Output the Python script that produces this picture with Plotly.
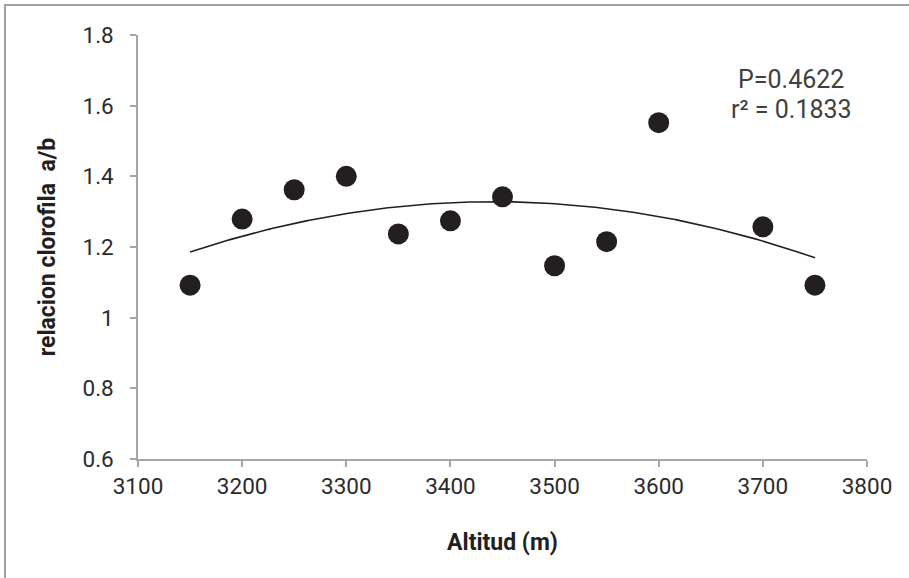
import numpy as np
import plotly.graph_objects as go

altitud = [3150, 3200, 3250, 3300, 3350, 3400, 3450, 3500, 3550, 3600, 3700, 3750]
relacion = [1.092, 1.279, 1.362, 1.400, 1.237, 1.274, 1.342, 1.147, 1.215, 1.552, 1.257, 1.092]
x_ticks = [3100, 3200, 3300, 3400, 3500, 3600, 3700, 3800]
y_ticks = [0.6, 0.8, 1.0, 1.2, 1.4, 1.6, 1.8]
y_ticklabels = ["0.6", "0.8", "1", "1.2", "1.4", "1.6", "1.8"]

# quadratic trend line (least squares fit of the data)
coef = np.polyfit(altitud, relacion, 2)
xf = np.linspace(min(altitud), max(altitud), 200)
yf = np.polyval(coef, xf)

tick_font = dict(family="Roboto, sans-serif", size=22.5, color="#2b2b2b")
title_font = dict(family="Roboto, sans-serif", size=23, color="#231f20")

fig = go.Figure()
fig.add_trace(go.Scatter(x=xf, y=yf, mode="lines", line=dict(color="#231f20", width=1.6),
                         hoverinfo="skip", showlegend=False))
fig.add_trace(go.Scatter(x=altitud, y=relacion, mode="markers",
                         marker=dict(color="#231f20", size=21), showlegend=False))

axis_col = "#a6a6a6"
fig.update_layout(
    width=909, height=578,
    margin=dict(l=138, r=42, t=35, b=119),
    paper_bgcolor="white", plot_bgcolor="white",
    xaxis=dict(range=[3100, 3800], tickvals=x_ticks, ticktext=[str(v) for v in x_ticks],
               showgrid=False, zeroline=False, showline=True, linecolor=axis_col, linewidth=1.5,
               ticks="outside", ticklen=6, tickcolor=axis_col, tickwidth=1.5,
               tickfont=tick_font, ticklabelstandoff=0,
               title=dict(text="<b>Altitud (m)</b>", font=title_font, standoff=36)),
    yaxis=dict(range=[0.6, 1.8], tickvals=y_ticks, ticktext=y_ticklabels,
               showgrid=False, zeroline=False, showline=True, linecolor=axis_col, linewidth=1.5,
               ticks="outside", ticklen=6, tickcolor=axis_col, tickwidth=1.5,
               tickfont=tick_font, ticklabelstandoff=12,
               title=dict(text="<b>relacion clorofila  a/b</b>", font=title_font, standoff=20)),
    annotations=[
        dict(xref="paper", yref="paper", x=(791 - 138) / 729, y=1 - (79 - 35) / 424,
             text="P=0.4622", showarrow=False, xanchor="center", yanchor="middle",
             font=dict(family="Roboto, sans-serif", size=25, color="#404040")),
        dict(xref="paper", yref="paper", x=(791 - 138) / 729, y=1 - (110 - 35) / 424,
             text="r² = 0.1833", showarrow=False, xanchor="center", yanchor="middle",
             font=dict(family="Roboto, sans-serif", size=25, color="#404040")),
    ],
    shapes=[
        dict(type="line", xref="paper", yref="paper",
             x0=(5 - 138) / 729, x1=(912 - 138) / 729, y0=1 + (35 - 5) / 424, y1=1 + (35 - 5) / 424,
             line=dict(color="#a0a0a0", width=2)),
        dict(type="line", xref="paper", yref="paper",
             x0=(5 - 138) / 729, x1=(5 - 138) / 729, y0=1 + (35 - 4) / 424, y1=(459 - 581) / 424,
             line=dict(color="#a0a0a0", width=2)),
    ],
)

fig.write_html("out.html")
